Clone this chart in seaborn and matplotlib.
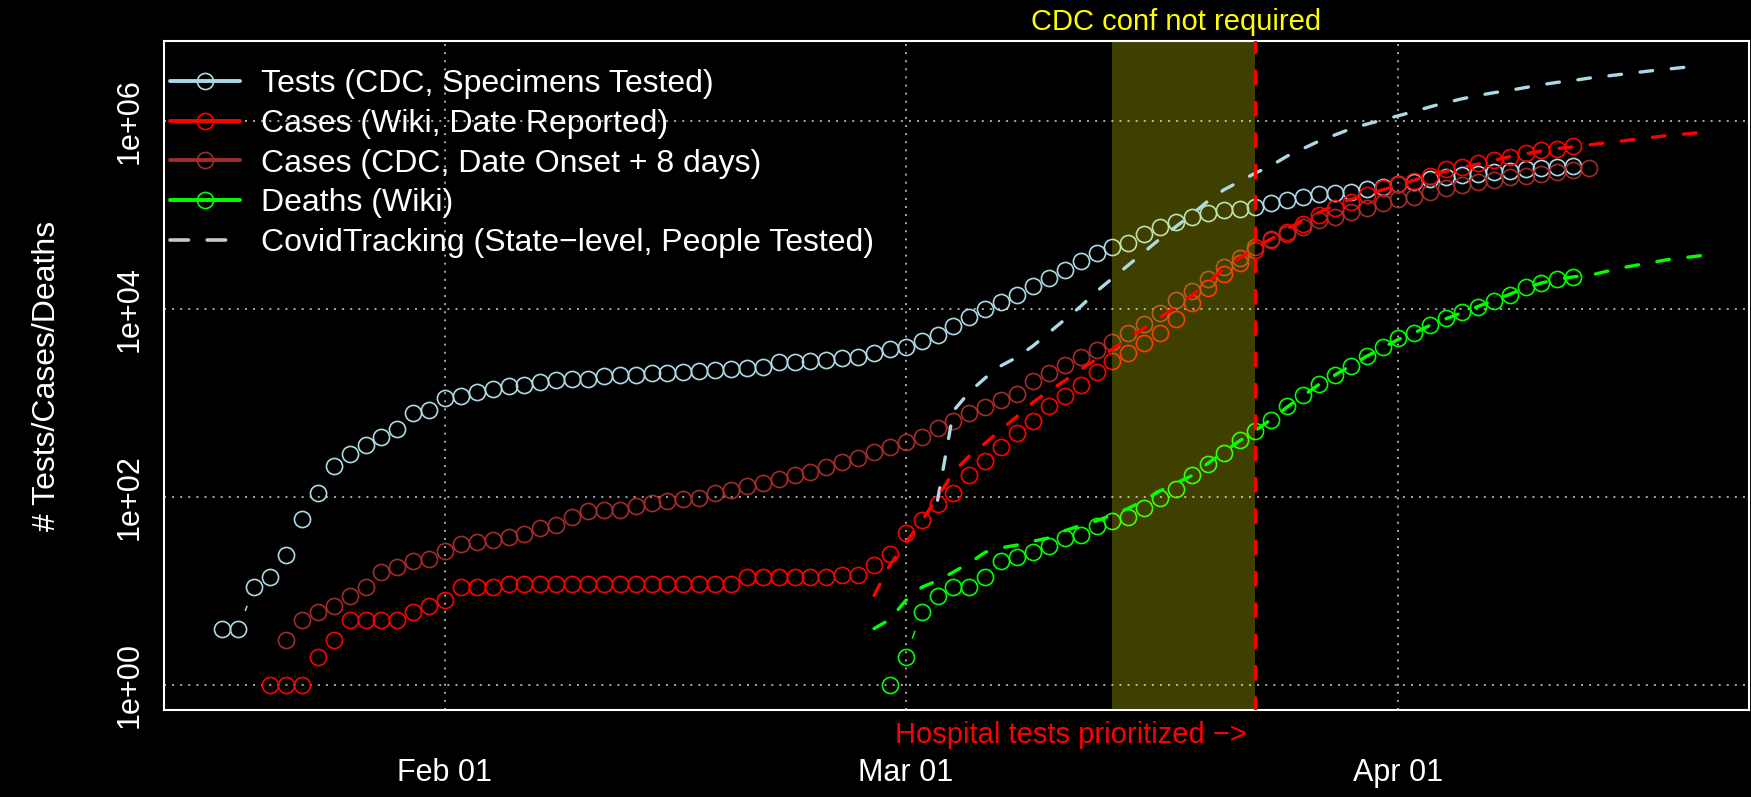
import numpy as np
import pandas as pd
import matplotlib
matplotlib.use("Agg")
import matplotlib.pyplot as plt
import matplotlib.transforms as mtransforms
from matplotlib.lines import Line2D
from matplotlib.ticker import NullLocator
import seaborn as sns

# ---------------- data ----------------
tests_cdc_start = "2020-01-18"
tests_cdc = [4, 4, 11, 14, 24, 59, 111, 214, 289, 363, 434, 532, 787, 841,
             1138, 1183, 1315, 1416, 1514, 1578, 1679, 1750, 1807, 1820, 1928, 1977, 2023, 2075,
             2109, 2143, 2198, 2234, 2317, 2366, 2443, 2723, 2723, 2831, 2877, 2999, 3133, 3396, 3750,
             3972, 4581, 5383, 6607, 8222, 10093, 12023, 14125, 17865, 21380, 26182, 32885, 39355,
             45604, 51050, 62661, 74302, 84723, 95060, 104713, 113501, 116413, 123310, 135831,
             144544, 154882, 167880, 173780, 177828, 192752, 200909,
             214289, 226986, 245471, 257040, 267917, 278612, 290402, 297166, 307610, 319890,
             328095, 333426]

cases_wiki_start = "2020-01-21"
cases_wiki = [1, 1, 1, 2, 3, 5, 5, 5, 5, 6, 7,
              8, 11, 11, 11, 12, 12, 12, 12, 12, 12, 12, 12, 12, 12, 12, 12, 12, 12, 12,
              14, 14, 14, 14, 14, 14, 15, 15, 19, 25,
              42, 57, 84, 111, 173, 246, 340, 485, 643, 927, 1202, 1574, 2128, 2786, 3467, 4355,
              5572, 7834, 11776, 16749, 23768, 31333, 42756, 54576, 66069, 80724, 100693, 120504,
              139637, 164059, 193197,
              214289, 232809, 261216, 307610, 322849, 356451, 392645, 419759, 454988, 494311,
              514044, 544503]

cases_cdc_start = "2020-01-22"
cases_cdc = [3, 5, 6, 7, 9, 11, 16, 18, 21, 22,
             27, 32, 33, 35, 38, 41, 47, 51, 62, 71, 74, 74, 80, 87, 91, 95, 98, 111, 120, 131,
             142, 157, 174, 185, 210, 238, 262, 301, 343,
             385, 438, 546, 643, 789, 912, 1091, 1259, 1706, 2089, 2564, 3090, 3698, 4539, 5559,
             6998, 9226, 12589, 15849, 20893, 28445, 34914, 45604, 55463, 63096, 74473, 89125,
             96605, 109144, 118304, 136144,
             147571, 157398, 177828, 193197, 209411, 227510, 237137, 252930, 261216, 274789,
             290402, 302691, 315504]

deaths_wiki_start = "2020-02-29"
deaths_wiki = [1,
               2, 6, 9, 11, 11, 14, 21, 23, 26, 30, 37, 40, 49, 56, 62, 77, 98, 123, 174, 228,
               296, 404, 502, 668, 927, 1230, 1585, 1995, 2512, 3162, 3981,
               4932, 5662, 6823, 8035, 9462, 10691, 12388, 14223, 17458, 18923, 20845, 21878]

ct_tests_start = "2020-03-03"
ct_tests = [93, 832, 1318, 1862, 2512, 3090, 4074, 5623, 7762, 10715, 15488, 21380, 29512,
            40738, 56234, 75858, 102329, 141254, 186209, 229087, 281838, 338844, 426580,
            512861, 616595, 716143, 831764, 933254, 1035142, 1148154, 1273503, 1428894,
            1584893, 1737801, 1883649, 2018366, 2137962, 2290868, 2454709, 2600160, 2722701,
            2884032, 3019952, 3162278, 3311311, 3467369, 3605782, 3758374, 3908409]

ct_positive_start = "2020-02-28"
ct_positive = [9, 19, 33, 56, 100, 186, 275, 376, 525, 724, 1023, 1349, 1738, 2291, 2951,
               3758, 4898, 6310, 8128, 10715, 14125, 19055, 26915, 34674, 45709, 56234, 72444,
               87096, 107152, 128825, 147911, 165959, 186209, 208930, 237137, 266073, 295121,
               323594, 350752, 384592, 421697, 451856, 484172, 512861, 537032, 562341, 588844,
               616595, 645654, 676083, 707946, 732825, 758578]

ct_deaths_start = "2020-02-28"
ct_deaths = [4, 5, 8, 11, 13, 16, 20, 26, 29, 31, 34, 37, 44, 50, 56, 65, 76, 93, 117, 141,
             170, 229, 302, 398, 513, 676, 912, 1202, 1585, 1995, 2512, 3162, 3890, 4786, 5623,
             6761, 7943, 9226, 10715, 12388, 14454, 16866, 19055, 20893, 22131, 22909, 25119,
             27542, 29512, 31623, 33884, 35481, 37154]

legend_labels = ["Tests (CDC, Specimens Tested)", "Cases (Wiki, Date Reported)",
                 "Cases (CDC, Date Onset + 8 days)", "Deaths (Wiki)",
                 "CovidTracking (State\u2212level, People Tested)"]
x_tick_dates = ["2020-02-01", "2020-03-01", "2020-04-01"]
x_tick_labels = ["Feb 01", "Mar 01", "Apr 01"]
y_ticks = [1, 1e2, 1e4, 1e6]
y_tick_labels = ["1e+00", "1e+02", "1e+04", "1e+06"]
shade_start, shade_end = "2020-03-14", "2020-03-23"
label_shade = "CDC conf not required"
label_line = "Hospital tests prioritized \u2212>"
y_title = "# Tests/Cases/Deaths"

# ---------------- style ----------------
C_TESTS = "#ADD8E6"
C_CASES = "#FF0000"
C_CDC = "#A52A2A"
C_DEATHS = "#00FF00"
C_CT = "#C8C8C8"

sns.set_style("white")
plt.rcParams["font.family"] = ["Liberation Sans", "DejaVu Sans"]
plt.rcParams["axes.unicode_minus"] = True

FS = 22
FS_LEG = 23
W, H = 1751, 797
fig = plt.figure(figsize=(W / 100, H / 100), dpi=100, facecolor="black")
L, R, T, B = 164, 1749, 41, 710
ax = fig.add_axes([L / W, 1 - B / H, (R - L) / W, (B - T) / H])
ax.set_facecolor("black")
ax.set_yscale("log")


def frame(start, values):
    return pd.DataFrame({"date": pd.date_range(start, periods=len(values), freq="D"),
                         "value": np.asarray(values, dtype=float)})


point_series = [(frame(tests_cdc_start, tests_cdc), C_TESTS),
                (frame(cases_wiki_start, cases_wiki), C_CASES),
                (frame(cases_cdc_start, cases_cdc), C_CDC),
                (frame(deaths_wiki_start, deaths_wiki), C_DEATHS)]
dash_series = [(frame(ct_tests_start, ct_tests), C_TESTS),
               (frame(ct_positive_start, ct_positive), C_CASES),
               (frame(ct_deaths_start, ct_deaths), C_DEATHS)]

MS = 11.6
MEW = 1.2
GAP_MS = 28.5   # R type="b": line segments stop well short of each point
# connecting lines (R type="b")
for df, col in point_series:
    sns.lineplot(data=df, x="date", y="value", ax=ax, color=col, lw=1.1,
                 estimator=None, legend=False, zorder=2)
# black discs leave the gaps around each point
for df, col in point_series:
    sns.lineplot(data=df, x="date", y="value", ax=ax, color="black", linestyle="None",
                 marker="o", markersize=GAP_MS, markerfacecolor="black", markeredgewidth=0,
                 estimator=None, legend=False, zorder=3)
# open circles
for df, col in point_series:
    sns.lineplot(data=df, x="date", y="value", ax=ax, color=col, linestyle="None",
                 marker="o", markersize=MS, markerfacecolor="none", markeredgecolor=col,
                 markeredgewidth=MEW, estimator=None, legend=False, zorder=4)

# shaded period
ax.axvspan(pd.Timestamp(shade_start), pd.Timestamp(shade_end), color="yellow",
           alpha=0.25, lw=0, zorder=5)

DASH = (0, (3.8, 5.6))
for df, col in dash_series:
    sns.lineplot(data=df, x="date", y="value", ax=ax, color=col, lw=2.4, linestyle=DASH,
                 dash_capstyle="round", estimator=None, legend=False, zorder=6)

ax.axvline(pd.Timestamp(shade_end), color="red", lw=2.4, linestyle=DASH,
           dash_capstyle="round", zorder=6)

# axes limits (R style 4% padding)
mar1 = pd.Timestamp("2020-03-01")
ax.set_xlim(mar1 - pd.Timedelta(days=46.68), mar1 + pd.Timedelta(days=53.06))
ax.set_ylim(10 ** -0.264, 10 ** 6.855)

ax.set_xticks([pd.Timestamp(d) for d in x_tick_dates])
ax.set_xticklabels(x_tick_labels)
ax.set_yticks(y_ticks)
ax.set_yticklabels(y_tick_labels)
ax.yaxis.set_minor_locator(NullLocator())
ax.xaxis.set_minor_locator(NullLocator())
ax.set_xlabel("")
ax.set_ylabel(y_title, color="white", fontsize=FS_LEG)
ax.yaxis.set_label_coords(-(L - 47) / (R - L), 0.5)
ax.yaxis.label.set_va("center")

ax.tick_params(axis="both", colors="white", width=1.5, length=7.9, labelsize=FS,
               direction="out")
ax.tick_params(axis="x", pad=26.8)
ax.tick_params(axis="y", pad=6, labelrotation=90)
for lab in ax.get_yticklabels():
    lab.set_va("center")
    lab.set_ha("right")

ax.grid(True, which="major", color="#D3D3D3", lw=1.1, linestyle=(0, (1.3, 4)))
# grid drawn after the gap discs, under the open circles
ax.xaxis.set_zorder(3.5)
ax.yaxis.set_zorder(3.5)
for sp in ax.spines.values():
    sp.set_color("white")
    sp.set_linewidth(1.5)
    sp.set_visible(True)
    sp.set_zorder(4.5)

# annotations
blend = mtransforms.blended_transform_factory(ax.transData, ax.transAxes)
ax.text(pd.Timestamp("2020-03-18"), 1 + 11 / (B - T), label_shade, color="yellow",
        fontsize=21, ha="center", va="baseline", transform=blend, clip_on=False)
ax.text(pd.Timestamp(shade_end), -33.3 / (B - T), label_line, color="red", fontsize=21,
        ha="right", va="baseline", clip_on=False,
        transform=mtransforms.offset_copy(blend, fig=fig, x=-8.6, units="dots"))

# legend
handles = [Line2D([], [], color=c, lw=2.8, marker="o", markersize=MS, markerfacecolor="none",
                  markeredgewidth=MEW)
           for c in (C_TESTS, C_CASES, C_CDC, C_DEATHS)]
handles.append(Line2D([], [], color=C_CT, lw=2.6, linestyle=(0, (5.1, 5.2)),
                      dash_capstyle="round"))
leg = ax.legend(handles, legend_labels, loc="upper left",
                bbox_to_anchor=(6 / (R - L), 1 - 28.5 / (B - T)), borderaxespad=0,
                borderpad=0, frameon=False, handlelength=2.2, handletextpad=0.66,
                labelspacing=0.30, fontsize=FS_LEG, labelcolor="white")
leg.set_zorder(10)

fig.savefig("out.png", dpi=100, facecolor="black")
